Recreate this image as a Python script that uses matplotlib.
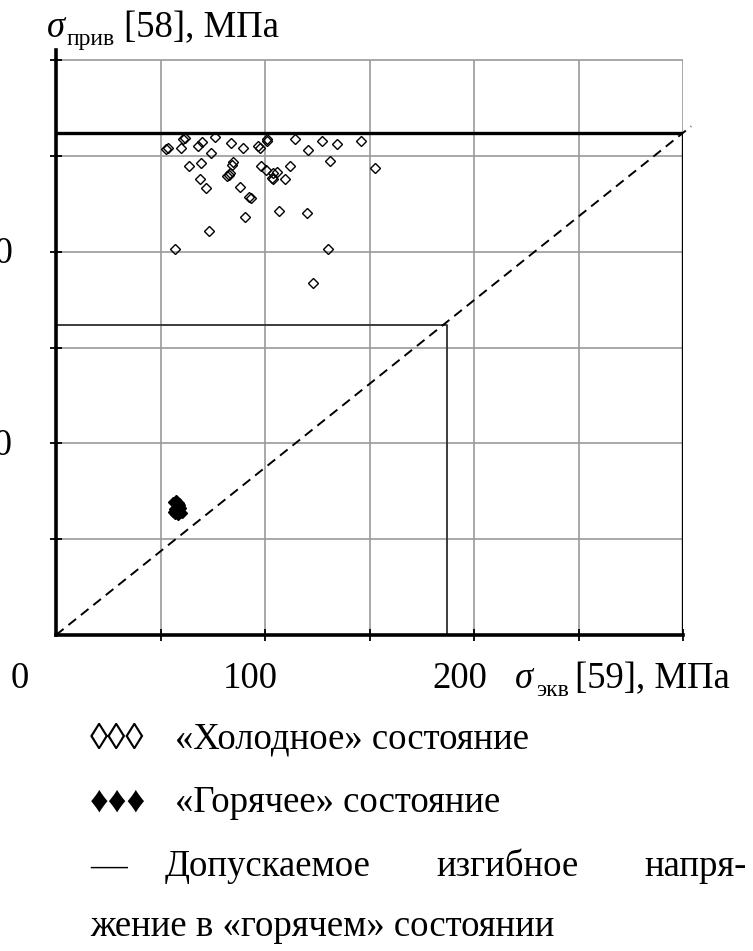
import matplotlib
matplotlib.use('Agg')
import matplotlib.pyplot as plt

W, H = 753, 951

# "cold" state points (sigma_ekv, sigma_priv)
cold_x = [60.9, 69.7, 76.1, 83.6, 89.6, 96.8, 97.6, 100.8, 100.8, 114.4, 120.7, 127.4, 134.4, 145.8,
          52.6, 53.7, 59.7, 68.1, 74.0, 131.1, 152.6, 63.8, 69.2, 84.5, 84.1, 82.6, 83.3, 68.9,
          71.8, 88.0, 92.5, 93.2, 90.4, 98.1, 100.5, 104.0, 105.6, 103.2, 103.7, 109.6, 112.0,
          106.8, 119.9, 73.4, 56.9, 130.3, 123.1, 61.5, 82.0]
cold_y = [258.8, 257.4, 259.7, 256.9, 253.9, 255.1, 253.9, 258.8, 257.8, 258.8, 253.0, 257.7, 256.2, 257.7,
          253.4, 254.3, 253.9, 255.1, 251.3, 247.5, 243.5, 244.7, 246.1, 246.9, 245.2, 240.0, 240.9, 237.8,
          233.1, 233.6, 228.7, 227.8, 218.2, 244.7, 242.6, 240.9, 241.7, 238.3, 237.7, 237.7, 244.7,
          221.4, 220.0, 210.8, 201.2, 201.4, 183.5, 259.5, 239.5]

# "hot" state points
hot_x = [56.0, 57.5, 59.0, 60.0, 56.5, 58.0, 59.5, 57.0, 58.5, 60.2, 56.2, 57.8, 59.2]
hot_y = [69.5, 70.5, 69.0, 66.5, 66.0, 67.0, 65.5, 63.0, 62.5, 63.5, 64.0, 68.5, 68.0]

grid_vals = [50, 100, 150, 200, 250, 300]
cold_allow = (300, 262)   # outer thick box corner
hot_allow = (187, 162)    # allowable bending stress in hot state

fig = plt.figure(figsize=(W / 100, H / 100), dpi=100)
ax = fig.add_axes([56 / W, (H - 635) / H, (683 - 56) / W, (635 - 50) / H])
ax.set_xlim(0, 300)
ax.set_ylim(0, 300 * (635 - 50) / (635 - 60))

for s in ['top', 'right']:
    ax.spines[s].set_visible(False)
for s in ['left', 'bottom']:
    ax.spines[s].set_linewidth(2.6)

gcol = '#9a9a9a'
ax.vlines(grid_vals, 0, 300, color=gcol, lw=1.2, zorder=1)
ax.hlines(grid_vals, 0, 300, color=gcol, lw=1.2, zorder=1)

ax.set_xticks(grid_vals)
ax.set_yticks(grid_vals)
ax.set_xticklabels([])
ax.set_yticklabels([])
ax.tick_params(direction='inout', length=9, width=1.3, color='black')

# hot allowable stress box
ax.plot([0, hot_allow[0], hot_allow[0]], [hot_allow[1], hot_allow[1], 0], color='#3c3c3c', lw=1.4, zorder=2)
# cold allowable box
ax.plot([0, cold_allow[0], cold_allow[0]], [cold_allow[1], cold_allow[1], 0], color='black', lw=2.4, zorder=3)
# diagonal
ax.plot([0, cold_allow[0] * 1.013], [0, cold_allow[1] * 1.013], color='black', lw=1.4,
        dashes=(5, 3.2), zorder=3, clip_on=False)

ax.plot(cold_x, cold_y, 'D', ms=5.6, mfc='none', mec='black', mew=1.0, zorder=4)
ax.plot(hot_x, hot_y, 'D', ms=5.6, mfc='black', mec='black', mew=1.0, zorder=4)

serif = ['Liberation Serif', 'DejaVu Serif']
fs = 26.5
fsub = 17


def txt(x, y, s, size=fs, **kw):
    fig.text(x / W, 1 - y / H, s, fontsize=size, family=serif, va='baseline', **kw)


# axis titles
txt(47, 37, 'σ', style='italic')
txt(67, 45, 'прив', size=fsub)
txt(124, 37, '[58], МПа')
txt(515, 688, 'σ', style='italic')
txt(536, 696, 'экв', size=fsub)
txt(575, 688, '[59], МПа')

# tick labels
txt(19.5, 688, '0', ha='center')
txt(250.5, 688, '100', ha='center')
txt(460, 688, '200', ha='center')
txt(13, 263, '200', ha='right')
txt(13, 455, '100', ha='right')

# legend block
txt(90, 749, '◊◊◊')
txt(175, 749, '«Холодное» состояние')
txt(90, 812, '♦♦♦')
txt(175, 812, '«Горячее» состояние')
txt(90, 876, '—')
txt(165, 876, 'Допускаемое')
txt(436, 876, 'изгибное')
txt(747, 876, 'напря-', ha='right')
txt(90, 936, 'жение в «горячем» состоянии')

fig.savefig('out.png', dpi=100)
